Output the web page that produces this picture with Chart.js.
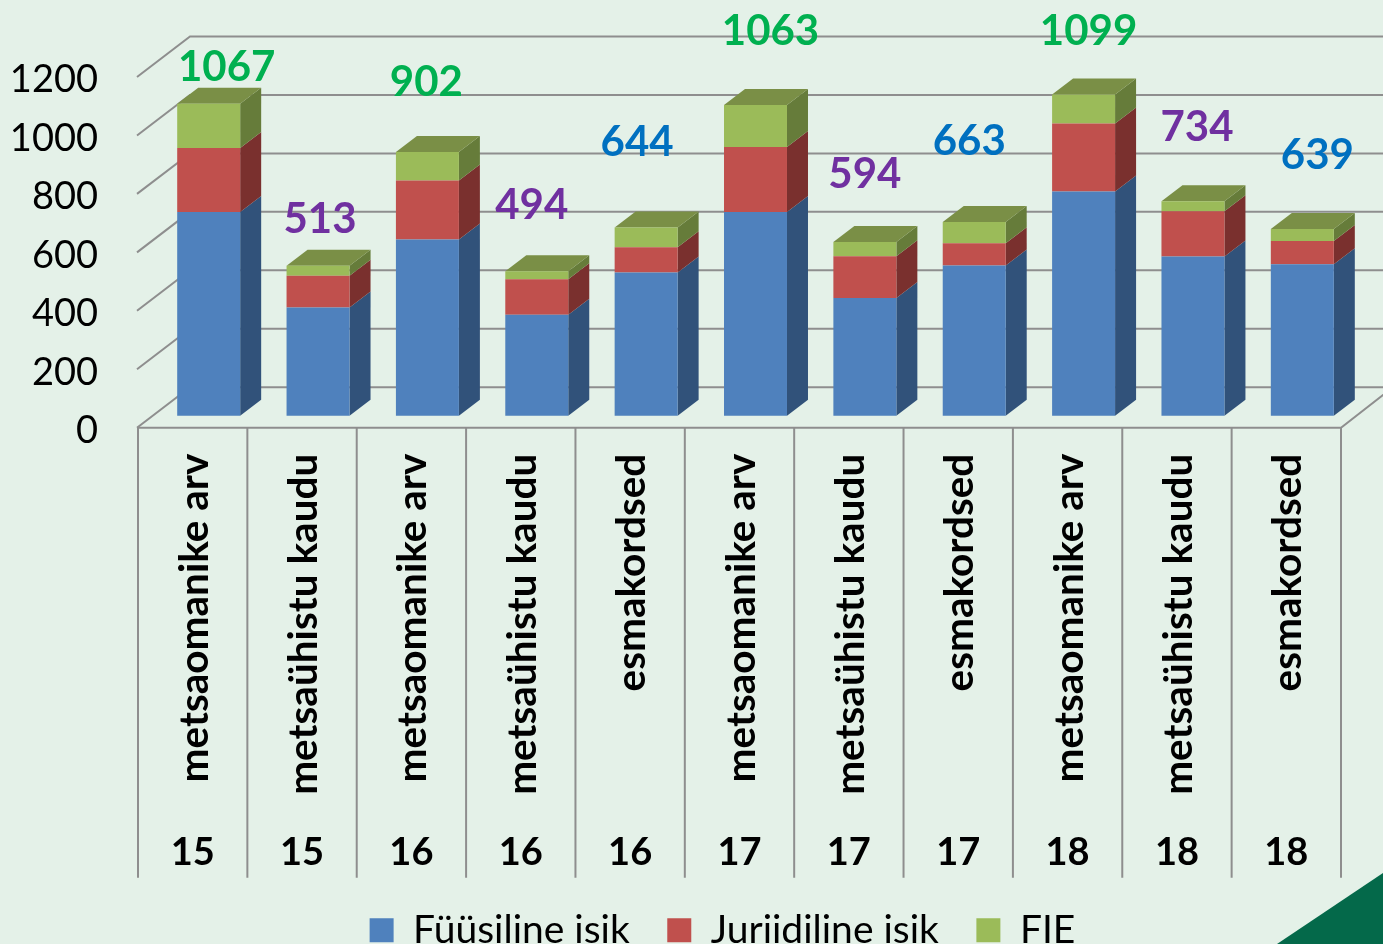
<!DOCTYPE html>
<html><head><meta charset="utf-8">
<style>html,body{margin:0;padding:0;background:#E4F1E8;overflow:hidden}#w{width:1383px;height:944px;position:relative}</style>
<script src="https://cdn.jsdelivr.net/npm/chart.js@4/dist/chart.umd.min.js"></script>
</head><body><div id="w"><canvas id="c" width="1383" height="944"></canvas></div>
<script>
const categories = ['metsaomanike arv','metsaühistu kaudu','metsaomanike arv','metsaühistu kaudu','esmakordsed','metsaomanike arv','metsaühistu kaudu','esmakordsed','metsaomanike arv','metsaühistu kaudu','esmakordsed'];
const years = ['15','15','16','16','16','17','17','17','18','18','18'];
const fyysiline = [697,370,603,345,490,697,403,514,767,545,518];
const juriidiline = [219,109,202,122,86,222,143,76,233,155,80];
const fie = [151,34,97,27,68,144,48,73,99,34,41];
const totals = [1067,513,902,494,644,1063,594,663,1099,734,639];
const yTicks = [0,200,400,600,800,1000,1200];

const totalColour = {'metsaomanike arv':'#00B050','metsaühistu kaudu':'#7030A0','esmakordsed':'#0070C0'};
const labelShift = [[18,-36],[2,-46],[-1,-70],[-5,-66],[-9,-85],[15,-74],[0,-68],[-5,-80],[5,-63],[4,-74],[15,-73]];
const barShift = {x:16,y:-12}, depth = {x:21,y:-16}, wall = {x:52,y:-40.5};
const sideCol = ['#31527A','#7A302E','#667C3A'];
const topCol = '#7A8F46';
const lineCol = '#8E8E8E';

function nudgeLabels(scale,dx,dy){
  const orig=scale.drawLabels;
  scale.drawLabels=function(a){const c=this.ctx;c.save();c.translate(dx,dy);orig.call(this,a);c.restore();};
}
const faces3d = {
  id:'faces3d',
  afterLayout(ch){
    ch.legend.left += 31; ch.legend.right += 31;
    ch.legend.top -= 5.5; ch.legend.bottom -= 5.5;
    nudgeLabels(ch.scales.y,0,3);
    nudgeLabels(ch.scales.x,2,0);
  },
  beforeDraw(ch){
    const c=ch.ctx; c.save();
    c.fillStyle='#E4F1E8'; c.fillRect(0,0,ch.width,ch.height);
    c.fillStyle='#04694A'; c.beginPath(); c.moveTo(1277,944); c.lineTo(1383,873); c.lineTo(1383,944); c.closePath(); c.fill();
    c.restore();
  },
  beforeDatasetsDraw(ch){
    const c=ch.ctx, X=ch.scales.x, Y=ch.scales.y;
    const L=X.left, R=X.right, step=(R-L)/categories.length;
    c.save(); c.strokeStyle=lineCol; c.lineWidth=2;
    yTicks.forEach(v=>{
      const y=Y.getPixelForValue(v);
      c.beginPath(); c.moveTo(L-1,y); c.lineTo(L+wall.x,y+wall.y); c.lineTo(R+wall.x,y+wall.y); c.stroke();
    });
    const y0=Y.getPixelForValue(0);
    c.beginPath(); c.moveTo(L-1,y0); c.lineTo(R,y0); c.lineTo(R+wall.x,y0+wall.y); c.stroke();
    for(let i=0;i<=categories.length;i++){
      const x=L+i*step; c.beginPath(); c.moveTo(x,y0); c.lineTo(x,y0+450); c.stroke();
    }
    c.restore();
    ch.data.datasets.forEach((ds,di)=>{
      ch.getDatasetMeta(di).data.forEach(b=>{
        const r=b.x+b.width/2+barShift.x, top=b.y+barShift.y, bot=b.base+barShift.y;
        c.fillStyle=sideCol[di];
        c.beginPath(); c.moveTo(r,top); c.lineTo(r+depth.x,top+depth.y); c.lineTo(r+depth.x,bot+depth.y); c.lineTo(r,bot); c.closePath(); c.fill();
        if(di===2){
          const l=r-b.width;
          c.fillStyle=topCol;
          c.beginPath(); c.moveTo(l,top); c.lineTo(l+depth.x,top+depth.y); c.lineTo(r+depth.x,top+depth.y); c.lineTo(r,top); c.closePath(); c.fill();
        }
      });
    });
    c.save(); c.translate(barShift.x,barShift.y);
  },
  afterDatasetsDraw(ch){
    const c=ch.ctx; c.restore();
    const meta=ch.getDatasetMeta(2);
    c.save(); c.font='bold 42px Lato'; c.textAlign='center'; c.textBaseline='middle';
    totals.forEach((t,i)=>{
      const b=meta.data[i];
      c.fillStyle=totalColour[categories[i]];
      c.fillText(String(t), b.x+barShift.x+labelShift[i][0], b.y+barShift.y+labelShift[i][1]);
    });
    c.restore();
  }
};

Chart.defaults.font.family='Lato';
Chart.defaults.color='#000';
const mk=(label,data,color)=>({label,data,backgroundColor:color,borderWidth:0,stack:'s',categoryPercentage:1,barPercentage:63/109.4,clip:false});
new Chart(document.getElementById('c'),{
  type:'bar',
  data:{labels:categories,datasets:[mk('Füüsiline isik',fyysiline,'#4F81BD'),mk('Juriidiline isik',juriidiline,'#C0504D'),mk('FIE',fie,'#9BBB59')]},
  plugins:[faces3d],
  options:{
    responsive:false,animation:false,
    layout:{padding:{left:0,right:0,top:77,bottom:-21.2}},
    plugins:{tooltip:{enabled:false},
      legend:{position:'bottom',labels:{boxWidth:24,boxHeight:24,padding:37.5,color:'#000',font:{size:39}}}},
    scales:{
      x:{stacked:true,weight:0,grid:{display:false},border:{display:false},
        ticks:{autoSkip:false,minRotation:90,maxRotation:90,padding:18,color:'#000',font:{size:40.5,weight:'bold'}},
        afterFit(s){s.height=390;s.paddingLeft=0;s.paddingRight=42;}},
      x2:{type:'category',labels:years,position:'bottom',weight:1,offset:true,grid:{display:false,drawTicks:false},border:{display:false},
        ticks:{autoSkip:false,maxRotation:0,minRotation:0,padding:12,color:'#000',font:{size:38,weight:'bold'}},
        afterFit(s){s.height=61;s.paddingLeft=0;s.paddingRight=42;}},
      y:{stacked:true,min:0,max:1200,grid:{display:false,drawTicks:false},border:{display:false},
        ticks:{stepSize:200,padding:40,color:'#000',font:{size:38},callback:v=>String(v)},
        afterFit(s){s.width=138;s.paddingTop=0;s.paddingBottom=0;}}
    }
  }
});
</script></body></html>
